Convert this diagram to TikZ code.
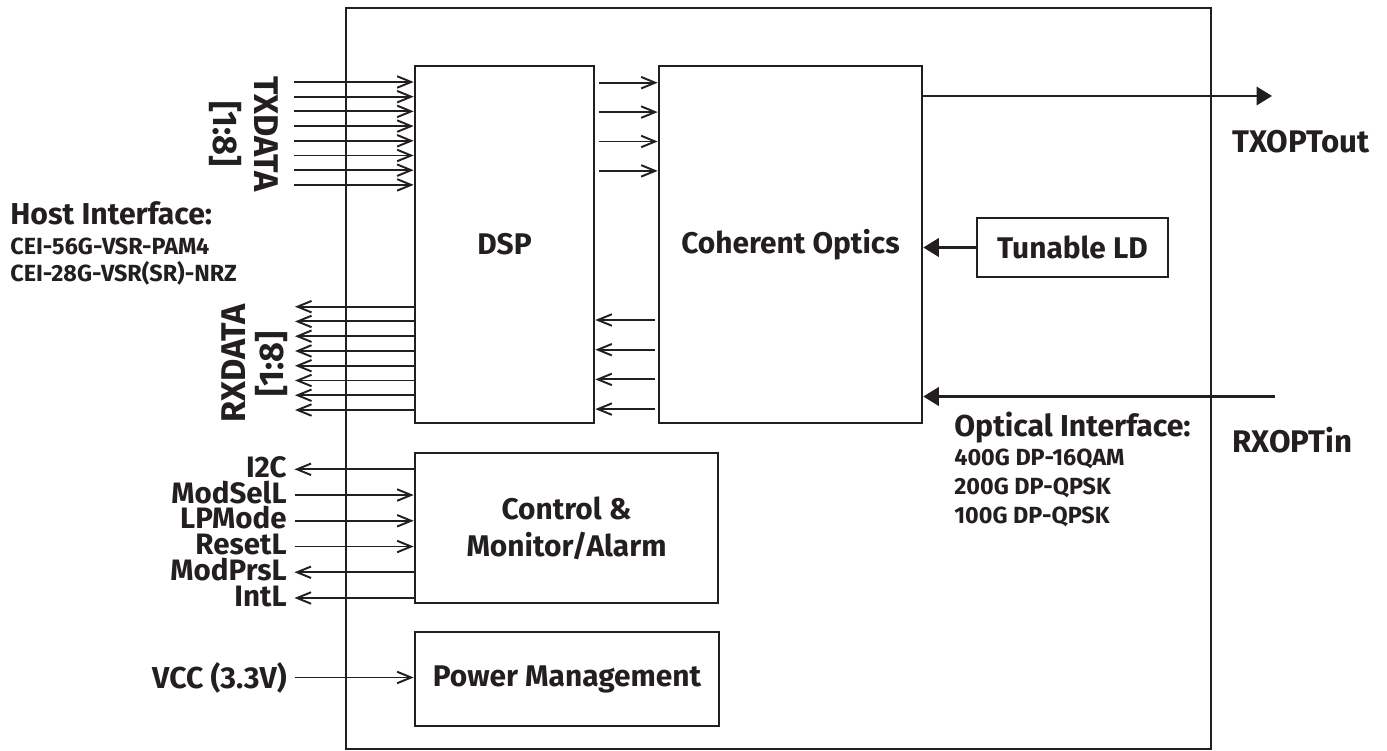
\documentclass[tikz,border=0pt]{standalone}
\usepackage{fontspec}
\setmainfont{Fira Sans}
\usetikzlibrary{arrows.meta, positioning, calc}
\definecolor{inkdark}{HTML}{231F20}

\begin{document}
\begin{tikzpicture}[font=\bfseries,
    >={Straight Barb[length=2.8mm, width=2.3mm]},
    block/.style={draw=inkdark, line width=1.5pt, inner sep=0pt,
                  text=inkdark, align=center,
                  font=\fontsize{17}{21}\selectfont\bfseries},
    sig/.style={draw=inkdark, line width=1.1pt},
    optic/.style={draw=inkdark, line width=1.3pt,
                  -{Triangle[length=3.1mm, width=3.7mm]}},
    lbl/.style={text=inkdark, inner sep=0pt,
                font=\fontsize{17.2}{20}\selectfont\bfseries},
    ctllbl/.style={lbl, text height=11.6pt, text depth=0pt,
                   font=\fontsize{16.8}{18}\selectfont\bfseries},
    lanelbl/.style={lbl, font=\fontsize{19.5}{22}\selectfont\bfseries},
    sublbl/.style={text=inkdark, inner sep=0pt,
                   font=\fontsize{13.3}{15}\selectfont\bfseries}]
  \useasboundingbox (0,0) rectangle (27.74,-15.02);
  % module outline and blocks
  \node[block, minimum width=17.3cm, minimum height=14.82cm] (module) at (15.57,-7.57) {};
  \node[block, minimum width=3.58cm, minimum height=7.14cm] (dsp) at (10.09,-4.89) {DSP};
  \node[block, minimum width=5.26cm, minimum height=7.14cm] (optics) at (15.81,-4.89) {Coherent Optics};
  \node[block, minimum width=3.82cm, minimum height=1.18cm] (tld) at (21.45,-4.95) {Tunable LD};
  \node[block, minimum width=6.06cm, minimum height=3cm] (ctrl) at (11.33,-10.56) {Control \&\\Monitor/Alarm};
  \node[block, minimum width=6.08cm, minimum height=1.88cm] (power) at (11.34,-13.58) {Power Management};

  % host side data lanes
  \foreach \i in {0,...,7}{%
    \coordinate (tx\i) at (5.88,{-(82+14.7*\i)/50});
    \draw[sig, ->] (tx\i) -- (tx\i -| dsp.west);
    \coordinate (rx\i) at (5.9,{-(306.7+14.76*\i)/50});
    \draw[sig, ->] (rx\i -| dsp.west) -- (rx\i);}
  \node[lanelbl, rotate=-90] (txname) at (5.33,-2.68) {TXDATA};
  \node[lanelbl, rotate=-90] (txrange) at (4.5,-2.68) {[1:8]};
  \node[lanelbl, rotate=90] (rxname) at (4.67,-7.27) {RXDATA};
  \node[lanelbl, rotate=90] (rxrange) at (5.43,-7.28) {[1:8]};

  % DSP <-> optics lanes
  \foreach \i in {0,...,3}{%
    \coordinate (d2o\i) at (11.98,{-(82.7+29.4*\i)/50});
    \draw[sig, ->] (d2o\i) -- (d2o\i -| optics.west);
    \coordinate (o2d\i) at (13.1,{-(320+29.7*\i)/50});
    \draw[sig, ->] (o2d\i) -- (o2d\i -| dsp.east);}

  % line side
  \coordinate (txout) at (25.44,-1.92);
  \draw[optic] (txout -| optics.east) -- (txout);
  \draw[optic] (tld) -- (tld -| optics.east);
  \coordinate (rxin) at (25.5,-7.93);
  \draw[optic] (rxin) -- (rxin -| optics.east);
  \node[lbl, anchor=west, font=\fontsize{17.8}{20}\selectfont\bfseries] (txoptlab) at (24.64,-2.83) {TXOPTout};
  \node[lbl, anchor=west, font=\fontsize{17.8}{20}\selectfont\bfseries] (rxoptlab) at (24.64,-8.8) {RXOPTin};

  % interface notes
  \node[lbl, anchor=west] (hosttitle) at (0.2,-4.26) {Host Interface:};
  \node[sublbl, anchor=west] (host0) at (0.2,-4.93) {CEI-56G-VSR-PAM4};
  \node[sublbl, anchor=west] (host1) at (0.2,-5.46) {CEI-28G-VSR(SR)-NRZ};
  \node[lbl, anchor=west] (opttitle) at (19.08,-8.55) {Optical Interface:};
  \foreach \lab [count=\i from 0] in {400G DP-16QAM, 200G DP-QPSK, 100G DP-QPSK}{%
    \node[sublbl, anchor=west] (opt\i) at (19.08,{-9.18-0.577*\i}) {\lab};}

  % management signals
  \foreach \lab/\dir [count=\i from 0] in {I2C/<-, ModSelL/->, LPMode/->,
      ResetL/->, ModPrsL/<-, IntL/<-}{%
    \coordinate (cs\i) at (5.89,{-(469.3+25.74*\i)/50});
    \node[ctllbl, anchor=east] (ctl\i) at (5.74,{-(467.3+25.74*\i)/50}) {\lab};
    \draw[sig, \dir] (cs\i) -- (cs\i -| ctrl.west);}
  \coordinate (vcc) at (5.89,-13.55);
  \node[lbl, anchor=east] (vcclab) at (5.74,-13.55) {VCC (3.3V)};
  \draw[sig, ->] (vcc) -- (vcc -| power.west);
\end{tikzpicture}
\end{document}
